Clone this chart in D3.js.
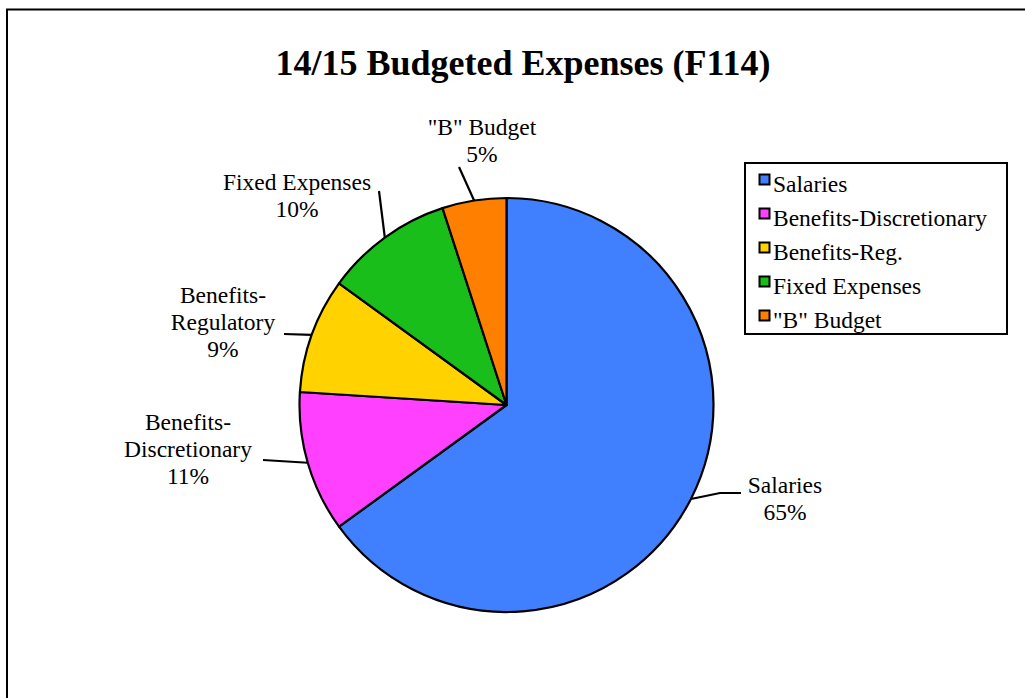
<!DOCTYPE html>
<html>
<head>
<meta charset="utf-8">
<script src="https://cdn.jsdelivr.net/npm/d3@7"></script>
<style>
  html, body { margin: 0; padding: 0; background: #fff; overflow: hidden; }
  svg { display: block; }
</style>
</head>
<body>
<svg id="chart" width="1025" height="698"></svg>
<script>
// Budget categories, their shares (%) and slice colours
const categories = ["Salaries", "Benefits-Discretionary", "Benefits-Reg.", "Fixed Expenses", "\"B\" Budget"];
const values = [65, 11, 9, 10, 5];
const colors = ["#4080ff", "#ff40ff", "#ffd200", "#1abe1a", "#ff7f00"];
// Slice label lines (drawn beside the pie)
const sliceLabels = [
  ["Salaries"],
  ["Benefits-", "Discretionary"],
  ["Benefits-", "Regulatory"],
  ["Fixed Expenses"],
  ["\"B\" Budget"]
];
const titleText = "14/15 Budgeted Expenses (F114)";

const FONT = "'Liberation Serif', 'Times New Roman', Times, serif";

// Layout
const cx = 506.5, cy = 405, radius = 207;
const labelLayout = [
  { x: 785, y: 493, end: [741, 493], elbow: [720, 493] },
  { x: 188, y: 430, end: [263, 460] },
  { x: 223, y: 303, end: [284, 334] },
  { x: 297, y: 190, end: [379, 191] },
  { x: 482, y: 135, end: [459, 167] }
];
const lineGap = 27;

const svg = d3.select("#chart");

// Outer frame (continues past the right and bottom edges)
svg.append("rect")
  .attr("x", 7).attr("y", 9.5)
  .attr("width", 1040).attr("height", 720)
  .attr("fill", "#fff").attr("stroke", "#000").attr("stroke-width", 2);

// Title
svg.append("text")
  .attr("x", 523).attr("y", 75)
  .attr("text-anchor", "middle")
  .attr("font-family", FONT)
  .attr("font-size", 36).attr("font-weight", "bold")
  .text(titleText);

// Pie
const data = categories.map((c, i) => ({ name: c, value: values[i], i }));
const pie = d3.pie().value(d => d.value).sort(null);
const arcs = pie(data);
const arc = d3.arc().innerRadius(0).outerRadius(radius);

const g = svg.append("g").attr("transform", `translate(${cx},${cy})`);
g.selectAll("path.slice")
  .data(arcs)
  .join("path")
  .attr("class", "slice")
  .attr("d", arc)
  .attr("fill", d => colors[d.data.i])
  .attr("stroke", "#000")
  .attr("stroke-width", 2.2)
  .attr("stroke-linejoin", "round");

// Leader lines from each slice's outer midpoint to its label
const edgePoint = d => {
  const a = (d.startAngle + d.endAngle) / 2;
  return [cx + radius * Math.sin(a), cy - radius * Math.cos(a)];
};
const leader = d3.line();
svg.selectAll("path.leader")
  .data(arcs)
  .join("path")
  .attr("class", "leader")
  .attr("d", d => {
    const L = labelLayout[d.data.i];
    const pts = [edgePoint(d)];
    if (L.elbow) pts.push(L.elbow);
    pts.push(L.end);
    return leader(pts);
  })
  .attr("fill", "none")
  .attr("stroke", "#000")
  .attr("stroke-width", 2.2);

// Slice labels: name lines then percentage
arcs.forEach(d => {
  const L = labelLayout[d.data.i];
  const lines = sliceLabels[d.data.i].concat([d.data.value + "%"]);
  const t = svg.append("text")
    .attr("text-anchor", "middle")
    .attr("font-family", FONT)
    .attr("font-size", 23.5);
  lines.forEach((s, k) => {
    t.append("tspan").attr("x", L.x).attr("y", L.y + k * lineGap).text(s);
  });
});

// Legend
const legX = 745, legY = 163, legW = 262, legH = 171;
svg.append("rect")
  .attr("x", legX).attr("y", legY)
  .attr("width", legW).attr("height", legH)
  .attr("fill", "#fff").attr("stroke", "#000").attr("stroke-width", 2);

const row = d3.scalePoint().domain(categories).range([192, 328]);
const leg = svg.selectAll("g.leg").data(data).join("g").attr("class", "leg");
leg.append("rect")
  .attr("x", 759.5).attr("y", d => row(d.name) - 17.5)
  .attr("width", 10).attr("height", 10)
  .attr("fill", d => colors[d.i])
  .attr("stroke", "#000").attr("stroke-width", 2);
leg.append("text")
  .attr("x", 773).attr("y", d => row(d.name))
  .attr("font-family", FONT)
  .attr("font-size", 23.5)
  .text(d => d.name);
</script>
</body>
</html>
